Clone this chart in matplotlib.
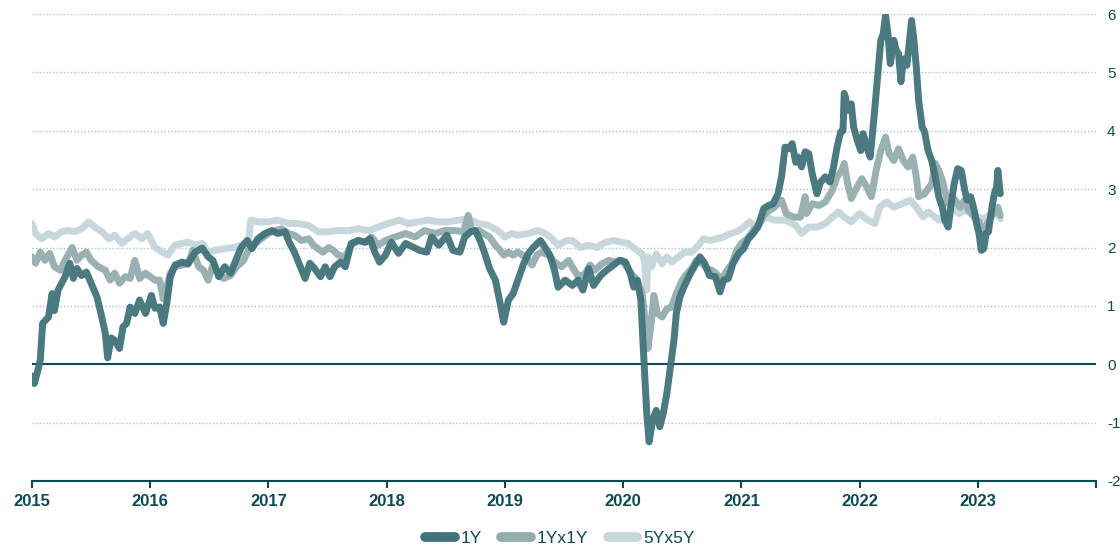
import matplotlib
matplotlib.use("Agg")
import matplotlib.pyplot as plt
from matplotlib.lines import Line2D

plt.rcParams['font.family'] = ['Liberation Sans', 'DejaVu Sans']
plt.rcParams['axes.unicode_minus'] = False

# ---------------- data (decimal years, %) ----------------
dates_1y = [
    2015.00, 2015.02, 2015.05, 2015.07, 2015.09, 2015.14, 2015.17, 2015.19, 2015.22, 2015.28,
    2015.32, 2015.35, 2015.38, 2015.42, 2015.46, 2015.50, 2015.55, 2015.59, 2015.62, 2015.64,
    2015.67, 2015.70, 2015.74, 2015.77, 2015.80, 2015.83, 2015.87, 2015.91, 2015.96, 2016.01,
    2016.04, 2016.08, 2016.11, 2016.14, 2016.17, 2016.21, 2016.27, 2016.32, 2016.38, 2016.44,
    2016.49, 2016.53, 2016.58, 2016.63, 2016.68, 2016.73, 2016.77, 2016.82, 2016.86, 2016.91,
    2016.97, 2017.03, 2017.08, 2017.14, 2017.18, 2017.22, 2017.27, 2017.31, 2017.35, 2017.39,
    2017.44, 2017.48, 2017.52, 2017.56, 2017.61, 2017.65, 2017.70, 2017.76, 2017.82, 2017.86,
    2017.90, 2017.94, 2017.99, 2018.04, 2018.10, 2018.16, 2018.23, 2018.28, 2018.34, 2018.38,
    2018.44, 2018.51, 2018.56, 2018.62, 2018.66, 2018.71, 2018.75, 2018.79, 2018.83, 2018.87,
    2018.92, 2018.96, 2018.99, 2019.03, 2019.07, 2019.11, 2019.16, 2019.20, 2019.24, 2019.30,
    2019.34, 2019.38, 2019.42, 2019.45, 2019.51, 2019.57, 2019.62, 2019.66, 2019.71, 2019.75,
    2019.81, 2019.86, 2019.92, 2019.97, 2020.02, 2020.06, 2020.09, 2020.12, 2020.15, 2020.17,
    2020.20, 2020.22, 2020.25, 2020.28, 2020.31, 2020.34, 2020.37, 2020.40, 2020.43, 2020.45,
    2020.48, 2020.52, 2020.57, 2020.61, 2020.65, 2020.69, 2020.73, 2020.78, 2020.82, 2020.85,
    2020.89, 2020.93, 2020.98, 2021.02, 2021.06, 2021.10, 2021.14, 2021.19, 2021.23, 2021.27,
    2021.31, 2021.34, 2021.37, 2021.40, 2021.43, 2021.46, 2021.48, 2021.51, 2021.54, 2021.57,
    2021.60, 2021.64, 2021.67, 2021.71, 2021.75, 2021.78, 2021.81, 2021.84, 2021.86, 2021.87,
    2021.88, 2021.90, 2021.93, 2021.95, 2021.98, 2022.01, 2022.03, 2022.06, 2022.09, 2022.12,
    2022.14, 2022.16, 2022.18, 2022.20, 2022.22, 2022.24, 2022.26, 2022.29, 2022.31, 2022.33,
    2022.35, 2022.37, 2022.40, 2022.42, 2022.44, 2022.46, 2022.48, 2022.50, 2022.53, 2022.55,
    2022.58, 2022.61, 2022.64, 2022.67, 2022.70, 2022.72, 2022.75, 2022.78, 2022.80, 2022.83,
    2022.86, 2022.89, 2022.91, 2022.94, 2022.97, 2022.99, 2023.01, 2023.03, 2023.05, 2023.07,
    2023.09, 2023.12, 2023.14, 2023.16, 2023.17, 2023.19,
]
values_1y = [
    -0.20, -0.33, -0.10, 0.07, 0.70, 0.81, 1.21, 0.92, 1.27, 1.50,
    1.73, 1.47, 1.64, 1.52, 1.58, 1.39, 1.15, 0.81, 0.53, 0.11,
    0.45, 0.41, 0.27, 0.64, 0.70, 0.98, 0.87, 1.10, 0.87, 1.18,
    0.96, 0.98, 0.70, 1.04, 1.50, 1.70, 1.75, 1.72, 1.92, 1.99,
    1.84, 1.78, 1.50, 1.67, 1.56, 1.81, 2.00, 2.12, 1.98, 2.15,
    2.24, 2.29, 2.24, 2.27, 2.07, 1.92, 1.67, 1.47, 1.73, 1.64,
    1.50, 1.67, 1.50, 1.67, 1.75, 1.67, 2.07, 2.12, 2.09, 2.15,
    1.92, 1.75, 1.87, 2.09, 1.90, 2.07, 2.00, 1.95, 1.92, 2.18,
    2.04, 2.21, 1.95, 1.92, 2.18, 2.27, 2.29, 2.12, 1.90, 1.64,
    1.44, 1.04, 0.72, 1.10, 1.21, 1.44, 1.73, 1.90, 2.00, 2.12,
    2.00, 1.87, 1.61, 1.32, 1.44, 1.35, 1.44, 1.27, 1.64, 1.35,
    1.52, 1.61, 1.70, 1.78, 1.75, 1.56, 1.32, 1.44, 1.10, 0.30,
    -0.84, -1.33, -0.96, -0.79, -1.07, -0.84, -0.50, -0.05, 0.41, 0.87,
    1.15, 1.35, 1.56, 1.70, 1.84, 1.73, 1.52, 1.50, 1.24, 1.44,
    1.47, 1.73, 1.90, 1.98, 2.15, 2.24, 2.35, 2.67, 2.72, 2.75,
    2.92, 3.21, 3.72, 3.69, 3.78, 3.46, 3.55, 3.38, 3.64, 3.61,
    3.26, 2.92, 3.12, 3.21, 3.12, 3.38, 3.72, 3.98, 4.00, 4.64,
    4.58, 4.35, 4.46, 4.06, 3.84, 3.66, 3.95, 3.72, 3.55, 4.18,
    4.64, 5.09, 5.55, 5.66, 5.98, 5.66, 5.15, 5.55, 5.38, 5.32,
    4.84, 5.23, 5.12, 5.49, 5.89, 5.55, 5.09, 4.52, 4.06, 3.98,
    3.66, 3.49, 3.21, 2.87, 2.69, 2.47, 2.35, 2.81, 3.09, 3.35,
    3.32, 2.98, 2.81, 2.87, 2.64, 2.41, 2.24, 1.95, 1.98, 2.24,
    2.27, 2.69, 2.92, 3.04, 3.32, 2.92,
]

dates_1yx1y = [
    2015.00, 2015.03, 2015.07, 2015.11, 2015.15, 2015.19, 2015.24, 2015.28, 2015.34, 2015.38,
    2015.42, 2015.46, 2015.50, 2015.56, 2015.62, 2015.66, 2015.70, 2015.74, 2015.79, 2015.83,
    2015.87, 2015.91, 2015.96, 2016.00, 2016.04, 2016.08, 2016.11, 2016.14, 2016.17, 2016.21,
    2016.27, 2016.32, 2016.36, 2016.41, 2016.45, 2016.49, 2016.53, 2016.58, 2016.62, 2016.68,
    2016.73, 2016.79, 2016.83, 2016.89, 2016.94, 2017.00, 2017.06, 2017.11, 2017.17, 2017.22,
    2017.28, 2017.34, 2017.38, 2017.42, 2017.46, 2017.51, 2017.55, 2017.59, 2017.65, 2017.70,
    2017.76, 2017.82, 2017.87, 2017.93, 2017.99, 2018.07, 2018.16, 2018.24, 2018.32, 2018.41,
    2018.49, 2018.58, 2018.65, 2018.69, 2018.72, 2018.78, 2018.82, 2018.87, 2018.92, 2018.96,
    2018.99, 2019.03, 2019.07, 2019.11, 2019.17, 2019.23, 2019.27, 2019.31, 2019.37, 2019.42,
    2019.48, 2019.54, 2019.57, 2019.62, 2019.68, 2019.72, 2019.76, 2019.82, 2019.88, 2019.93,
    2019.99, 2020.03, 2020.07, 2020.12, 2020.16, 2020.19, 2020.21, 2020.24, 2020.26, 2020.29,
    2020.33, 2020.37, 2020.41, 2020.45, 2020.50, 2020.54, 2020.58, 2020.62, 2020.67, 2020.71,
    2020.75, 2020.79, 2020.83, 2020.88, 2020.92, 2020.96, 2021.00, 2021.05, 2021.10, 2021.15,
    2021.20, 2021.28, 2021.34, 2021.38, 2021.44, 2021.50, 2021.54, 2021.55, 2021.60, 2021.66,
    2021.71, 2021.77, 2021.81, 2021.85, 2021.87, 2021.90, 2021.93, 2021.98, 2022.02, 2022.06,
    2022.10, 2022.14, 2022.18, 2022.22, 2022.25, 2022.29, 2022.33, 2022.37, 2022.41, 2022.45,
    2022.48, 2022.50, 2022.55, 2022.61, 2022.64, 2022.67, 2022.70, 2022.72, 2022.75, 2022.78,
    2022.81, 2022.85, 2022.89, 2022.92, 2022.97, 2023.01, 2023.04, 2023.06, 2023.10, 2023.15,
    2023.17, 2023.19,
]
values_1yx1y = [
    1.84, 1.73, 1.92, 1.78, 1.90, 1.67, 1.61, 1.78, 2.00, 1.78,
    1.87, 1.92, 1.78, 1.67, 1.61, 1.44, 1.56, 1.39, 1.50, 1.47,
    1.78, 1.47, 1.56, 1.50, 1.44, 1.44, 1.12, 1.32, 1.56, 1.67,
    1.70, 1.72, 1.95, 1.67, 1.61, 1.44, 1.70, 1.56, 1.47, 1.52,
    1.67, 1.78, 1.95, 2.07, 2.15, 2.24, 2.29, 2.32, 2.24, 2.21,
    2.12, 2.15, 2.04, 1.98, 1.92, 2.00, 1.95, 1.87, 1.84, 2.04,
    2.12, 2.09, 2.18, 2.04, 2.12, 2.18, 2.24, 2.18, 2.29, 2.24,
    2.29, 2.29, 2.27, 2.55, 2.29, 2.29, 2.24, 2.18, 2.04, 1.95,
    1.87, 1.92, 1.87, 1.92, 1.84, 1.70, 1.87, 1.92, 1.87, 1.75,
    1.67, 1.78, 1.67, 1.50, 1.55, 1.70, 1.61, 1.72, 1.78, 1.75,
    1.78, 1.67, 1.55, 1.44, 1.21, 0.70, 0.27, 0.75, 1.18, 0.87,
    0.81, 0.95, 0.98, 1.21, 1.44, 1.55, 1.64, 1.78, 1.72, 1.64,
    1.61, 1.55, 1.44, 1.61, 1.72, 1.95, 2.07, 2.15, 2.29, 2.40,
    2.58, 2.69, 2.81, 2.58, 2.52, 2.52, 2.87, 2.58, 2.75, 2.72,
    2.78, 2.98, 3.21, 3.32, 3.44, 3.09, 2.84, 3.04, 3.18, 3.04,
    2.87, 3.32, 3.66, 3.89, 3.61, 3.49, 3.69, 3.49, 3.38, 3.55,
    3.21, 2.87, 2.92, 3.09, 3.44, 3.32, 3.15, 2.98, 2.75, 2.87,
    2.81, 2.69, 2.81, 2.64, 2.52, 2.44, 2.29, 2.35, 2.47, 2.64,
    2.69, 2.55,
]

dates_5yx5y = [
    2015.00, 2015.03, 2015.08, 2015.14, 2015.19, 2015.25, 2015.31, 2015.36, 2015.42, 2015.48,
    2015.53, 2015.59, 2015.65, 2015.70, 2015.76, 2015.81, 2015.87, 2015.93, 2015.98, 2016.04,
    2016.10, 2016.15, 2016.21, 2016.27, 2016.32, 2016.38, 2016.44, 2016.49, 2016.55, 2016.63,
    2016.72, 2016.77, 2016.83, 2016.85, 2016.91, 2017.00, 2017.08, 2017.17, 2017.25, 2017.34,
    2017.42, 2017.51, 2017.59, 2017.68, 2017.76, 2017.85, 2017.93, 2018.01, 2018.11, 2018.18,
    2018.27, 2018.35, 2018.44, 2018.52, 2018.61, 2018.69, 2018.78, 2018.86, 2018.94, 2019.00,
    2019.06, 2019.11, 2019.20, 2019.28, 2019.34, 2019.40, 2019.45, 2019.52, 2019.57, 2019.64,
    2019.71, 2019.78, 2019.85, 2019.92, 2019.99, 2020.04, 2020.10, 2020.16, 2020.18, 2020.20,
    2020.21, 2020.24, 2020.28, 2020.33, 2020.37, 2020.41, 2020.47, 2020.52, 2020.58, 2020.64,
    2020.68, 2020.74, 2020.79, 2020.85, 2020.91, 2020.96, 2021.02, 2021.07, 2021.12, 2021.20,
    2021.28, 2021.37, 2021.46, 2021.51, 2021.57, 2021.64, 2021.71, 2021.77, 2021.82, 2021.87,
    2021.93, 2022.00, 2022.07, 2022.13, 2022.17, 2022.23, 2022.29, 2022.36, 2022.43, 2022.48,
    2022.54, 2022.58, 2022.64, 2022.67, 2022.72, 2022.78, 2022.84, 2022.89, 2022.95, 2023.00,
    2023.06, 2023.12, 2023.16, 2023.19,
]
values_5yx5y = [
    2.41, 2.24, 2.15, 2.24, 2.18, 2.27, 2.29, 2.27, 2.32, 2.44,
    2.35, 2.27, 2.15, 2.21, 2.07, 2.15, 2.24, 2.15, 2.24, 2.00,
    1.92, 1.87, 2.04, 2.07, 2.09, 2.04, 2.07, 1.92, 1.95, 1.98,
    2.00, 2.04, 2.09, 2.47, 2.44, 2.44, 2.47, 2.41, 2.41, 2.38,
    2.27, 2.27, 2.29, 2.29, 2.32, 2.29, 2.35, 2.41, 2.47, 2.41,
    2.44, 2.47, 2.44, 2.44, 2.47, 2.49, 2.41, 2.38, 2.29, 2.18,
    2.24, 2.21, 2.24, 2.29, 2.24, 2.15, 2.04, 2.12, 2.12, 2.00,
    2.04, 2.00, 2.09, 2.12, 2.09, 2.07, 1.98, 1.89, 1.78, 1.27,
    1.84, 1.67, 1.89, 1.72, 1.84, 1.75, 1.84, 1.92, 1.92, 2.04,
    2.15, 2.12, 2.15, 2.18, 2.24, 2.27, 2.35, 2.44, 2.35, 2.52,
    2.47, 2.47, 2.38, 2.24, 2.35, 2.35, 2.41, 2.52, 2.61, 2.52,
    2.44, 2.58, 2.47, 2.41, 2.69, 2.78, 2.69, 2.75, 2.81, 2.69,
    2.52, 2.61, 2.52, 2.47, 2.55, 2.69, 2.58, 2.64, 2.58, 2.52,
    2.49, 2.58, 2.64, 2.49,
]

series_labels = ["1Y", "1Yx1Y", "5Yx5Y"]
year_ticks = [2015, 2016, 2017, 2018, 2019, 2020, 2021, 2022, 2023, 2024]
year_labels = ["2015", "2016", "2017", "2018", "2019", "2020", "2021", "2022", "2023", ""]
y_ticks = [-2, -1, 0, 1, 2, 3, 4, 5, 6]

# ---------------- style ----------------
C_DARK = "#41737a"
C_MID = "#94adaf"
C_LIGHT = "#c7d7db"
C_TEXT = "#0d4a55"
C_GRID = "#a9c3ca"

fig = plt.figure(figsize=(11.2, 5.49), dpi=100)
ax = fig.add_axes([32 / 1120, 68 / 549, 1064 / 1120, 467 / 549])

lw = 5.0
kw = dict(solid_capstyle="round", solid_joinstyle="round")
ax.plot(dates_5yx5y, values_5yx5y, color=C_LIGHT, lw=lw, zorder=3, **kw)
ax.plot(dates_1yx1y, values_1yx1y, color=C_MID, lw=lw, zorder=4, alpha=0.95, **kw)
ax.plot(dates_1y, values_1y, color=C_DARK, lw=lw, zorder=5, alpha=0.95, **kw)

ax.axhline(0, color=C_TEXT, lw=1.5, zorder=2)
for yv in y_ticks:
    if yv not in (0, -2):
        ax.axhline(yv, color=C_GRID, lw=1.0, ls=(0, (1, 1.5)), zorder=1)

ax.set_xlim(2015, 2024)
ax.set_ylim(-2, 6)

for s in ["top", "left", "right"]:
    ax.spines[s].set_visible(False)
ax.spines["bottom"].set_color(C_TEXT)
ax.spines["bottom"].set_linewidth(1.5)

ax.set_xticks(year_ticks)
ax.set_xticklabels(year_labels, fontsize=12, fontweight="bold", color=C_TEXT)
ax.tick_params(axis="x", direction="out", length=5, width=1.5, color=C_TEXT, pad=4)

ax.yaxis.tick_right()
ax.set_yticks(y_ticks)
ax.set_yticklabels([str(v) for v in y_ticks], fontsize=11, color=C_TEXT)
ax.tick_params(axis="y", length=0, pad=8)

handles = [
    Line2D([0], [0], color=C_DARK, lw=7, solid_capstyle="round"),
    Line2D([0], [0], color=C_MID, lw=7, solid_capstyle="round"),
    Line2D([0], [0], color=C_LIGHT, lw=7, solid_capstyle="round"),
]
leg = fig.legend(handles, series_labels, loc="center", bbox_to_anchor=(0.5, 11 / 549),
                 ncol=3, frameon=False, fontsize=12.5, handlelength=1.7,
                 handletextpad=0.35, columnspacing=1.1)
for t in leg.get_texts():
    t.set_color(C_TEXT)

fig.savefig("out.png", dpi=100)
